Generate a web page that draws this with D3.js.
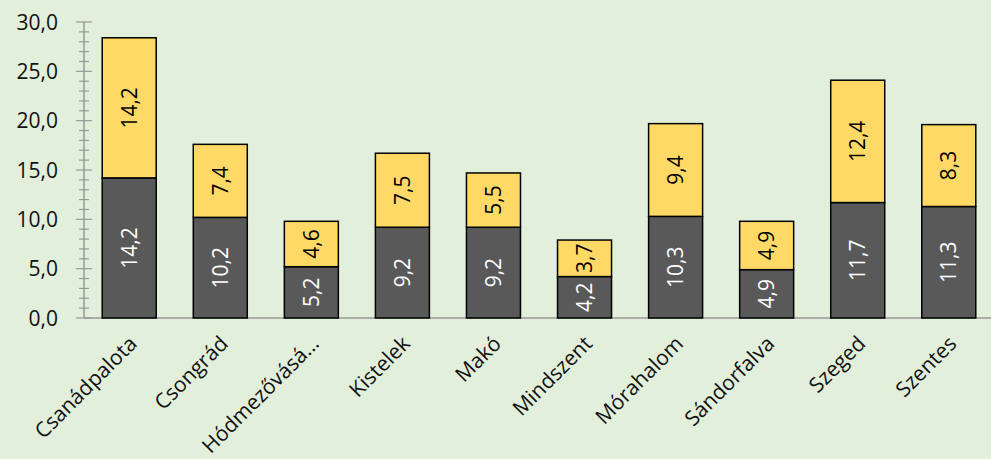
<!DOCTYPE html>
<html>
<head>
<meta charset="utf-8">
<script src="https://cdn.jsdelivr.net/npm/d3@7"></script>
<style>
  body { margin: 0; background: #e2efda; }
  svg { display: block; font-family: "Open Sans", sans-serif; }
</style>
</head>
<body>
<script>
// Data
const categories = ["Csanádpalota", "Csongrád", "Hódmezővásá…", "Kistelek", "Makó",
  "Mindszent", "Mórahalom", "Sándorfalva", "Szeged", "Szentes"];
const lower = [14.2, 10.2, 5.2, 9.2, 9.2, 4.2, 10.3, 4.9, 11.7, 11.3];
const upper = [14.2, 7.4, 4.6, 7.5, 5.5, 3.7, 9.4, 4.9, 12.4, 8.3];
const yTicks = [0, 5, 10, 15, 20, 25, 30];

const W = 991, H = 459,
  margin = { left: 84, top: 22, bottom: 141 };
const plotH = H - margin.top - margin.bottom;

const svg = d3.select("body").append("svg").attr("width", W).attr("height", H);

const x = d3.scaleBand().domain(categories).range([margin.left, margin.left + 910]).paddingInner(0.407).paddingOuter(0.2);
const y = d3.scaleLinear().domain([0, 30]).range([margin.top + plotH, margin.top]);

const fmt = v => d3.format(".1f")(v).replace(".", ",");

// x axis line
svg.append("line")
  .attr("x1", margin.left).attr("x2", W)
  .attr("y1", y(0)).attr("y2", y(0))
  .attr("stroke", "#999").attr("stroke-width", 1.5);

// y axis with minor ticks
svg.append("line")
  .attr("x1", margin.left).attr("x2", margin.left)
  .attr("y1", y(0)).attr("y2", y(30))
  .attr("stroke", "#999").attr("stroke-width", 1.5);

svg.append("g").selectAll("line")
  .data(d3.range(0, 31))
  .join("line")
  .attr("x1", d => d % 5 === 0 ? margin.left - 8 : margin.left - 5)
  .attr("x2", d => d % 5 === 0 ? margin.left + 8 : margin.left + 5)
  .attr("y1", d => y(d)).attr("y2", d => y(d))
  .attr("stroke", "#999").attr("stroke-width", 1.2);

svg.append("g").selectAll("text")
  .data(yTicks)
  .join("text")
  .attr("x", 58)
  .attr("y", d => y(d))
  .attr("dy", "0.36em")
  .attr("text-anchor", "end")
  .attr("font-size", 21)
  .attr("fill", "#111")
  .text(fmt);

// stacked bars
const bars = svg.append("g").selectAll("g")
  .data(categories)
  .join("g");

bars.append("rect")
  .attr("x", d => x(d))
  .attr("width", x.bandwidth())
  .attr("y", (d, i) => y(lower[i]))
  .attr("height", (d, i) => y(0) - y(lower[i]))
  .attr("fill", "#595959")
  .attr("stroke", "#000").attr("stroke-width", 1.5);

bars.append("rect")
  .attr("x", d => x(d))
  .attr("width", x.bandwidth())
  .attr("y", (d, i) => y(lower[i] + upper[i]))
  .attr("height", (d, i) => y(lower[i]) - y(lower[i] + upper[i]))
  .attr("fill", "#ffd966")
  .attr("stroke", "#000").attr("stroke-width", 1.5);

// value labels, rotated
bars.append("text")
  .attr("transform", (d, i) => `translate(${x(d) + x.bandwidth() / 2},${y(lower[i] / 2)}) rotate(-90)`)
  .attr("text-anchor", "middle")
  .attr("dy", "0.36em")
  .attr("font-size", 21)
  .attr("fill", "#fff")
  .text((d, i) => fmt(lower[i]));

bars.append("text")
  .attr("transform", (d, i) => `translate(${x(d) + x.bandwidth() / 2},${y(lower[i] + upper[i] / 2)}) rotate(-90)`)
  .attr("text-anchor", "middle")
  .attr("dy", "0.36em")
  .attr("font-size", 21)
  .attr("fill", "#000")
  .text((d, i) => fmt(upper[i]));

// category labels
svg.append("g").selectAll("text")
  .data(categories)
  .join("text")
  .attr("transform", d => `translate(${x(d) + x.bandwidth() / 2 + 9},${y(0) + 27}) rotate(-45)`)
  .attr("text-anchor", "end")
  .attr("font-size", 21)
  .attr("fill", "#111")
  .text(d => d);
</script>
</body>
</html>
